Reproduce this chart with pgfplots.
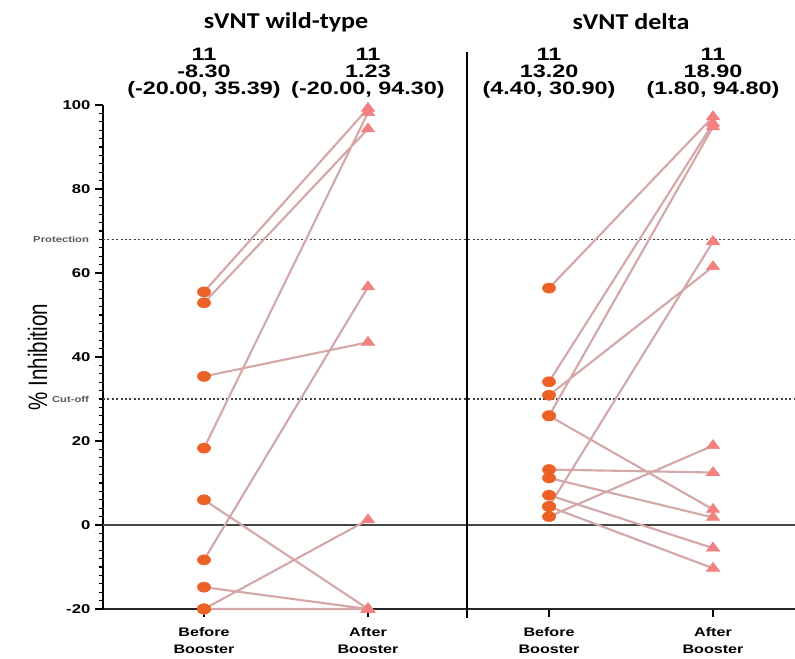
\documentclass[border=0pt]{standalone}
\usepackage{fontspec}
\setmainfont[FakeStretch=1.3]{Liberation Sans}
\newfontfamily\titlefont[FakeStretch=1.15]{Carlito}
\newfontfamily\ylabfont[FakeStretch=0.77]{Liberation Sans}
\usepackage{pgfplots}
\pgfplotsset{compat=1.18}
\definecolor{linec}{RGB}{212,168,168}
\definecolor{circc}{RGB}{236,98,38}
\definecolor{tric}{RGB}{243,128,128}
\definecolor{zeroc}{RGB}{70,70,70}
\begin{document}
\begin{tikzpicture}[x=1pt,y=1pt]
\path[use as bounding box] (-77.25,-36.75) rectangle (519,456.75);
\begin{axis}[
  at={(0,0)}, anchor=south west, scale only axis,
  width=519pt, height=378pt,
  xmin=-0.616, xmax=3.604, ymin=-20, ymax=100,
  axis lines*=left,
  y axis line style={line width=2pt, black},
  x axis line style={line width=1.4pt, black!85},
  clip=false,
  ytick={-20,0,20,40,60,80,100},
  minor y tick num=9,
  xtick={0,1,2.104,3.104},
  xticklabels={Before\\Booster, After\\Booster, Before\\Booster, After\\Booster},
  xticklabel style={align=center, font=\fontsize{9.3}{12.8}\selectfont\bfseries, yshift=-4pt},
  yticklabel style={font=\fontsize{9.6}{11}\selectfont\bfseries},
  /pgf/number format/assume math mode=true,
  tick align=outside,
  major tick length=6pt, minor tick length=3pt,
  major tick style={line width=1.2pt, black},
  minor tick style={line width=0.9pt, black},
]
% reference lines
\draw[line width=1.5pt, zeroc] (axis cs:-0.616,0) -- (axis cs:3.604,0);
\draw[line width=1pt, black!75, dash pattern=on 1.5pt off 1.8pt] (axis cs:-0.616,68) -- (axis cs:3.604,68);
\draw[line width=1pt, black!75, dash pattern=on 1.5pt off 1.8pt] (axis cs:-0.616,30) -- (axis cs:3.604,30);
\draw[line width=1.3pt, black] (axis cs:1.604,112.6) -- (axis cs:1.604,-22.2);

% markers: sVNT wild-type
\addplot[only marks, mark=*, mark size=3.8pt, mark options={xscale=1.3, draw=circc, fill=circc}]
  coordinates {(0,55.5) (0,52.9) (0,35.39) (0,18.3) (0,6.0) (0,-8.3) (0,-14.8) (0,-20) (0,-20) (0,-20) (0,-20)};
\addplot[only marks, mark=triangle*, mark size=4.5pt, mark options={xscale=1.3, draw=tric, fill=tric}]
  coordinates {(1,99.2) (1,94.3) (1,43.5) (1,98.2) (1,-20) (1,56.7) (1,-20) (1,1.23) (1,-20) (1,-20) (1,-20)};
% markers: sVNT delta
\addplot[only marks, mark=*, mark size=3.8pt, mark options={xscale=1.3, draw=circc, fill=circc}]
  coordinates {(2.104,56.4) (2.104,34.1) (2.104,30.9) (2.104,26.0) (2.104,26.0) (2.104,13.2) (2.104,11.2) (2.104,7.1) (2.104,4.4) (2.104,4.4) (2.104,2.0)};
\addplot[only marks, mark=triangle*, mark size=4.5pt, mark options={xscale=1.3, draw=tric, fill=tric}]
  coordinates {(3.104,97.2) (3.104,95.6) (3.104,61.5) (3.104,94.8) (3.104,3.7) (3.104,12.5) (3.104,1.8) (3.104,-5.5) (3.104,67.5) (3.104,-10.3) (3.104,18.9)};

% paired lines: sVNT wild-type
\addplot[linec, line width=1.6pt, mark=none, unbounded coords=jump] table[row sep=\\] {
x y\\
0 55.5\\ 1 99.2\\ 0 nan\\
0 52.9\\ 1 94.3\\ 0 nan\\
0 35.39\\ 1 43.5\\ 0 nan\\
0 18.3\\ 1 98.2\\ 0 nan\\
0 6.0\\ 1 -20\\ 0 nan\\
0 -8.3\\ 1 56.7\\ 0 nan\\
0 -14.8\\ 1 -20\\ 0 nan\\
0 -20\\ 1 1.23\\ 0 nan\\
0 -20\\ 1 -20\\ 0 nan\\
0 -20\\ 1 -20\\ 0 nan\\
0 -20\\ 1 -20\\
};
% paired lines: sVNT delta
\addplot[linec, line width=1.6pt, mark=none, unbounded coords=jump] table[row sep=\\] {
x y\\
2.104 56.4\\ 3.104 97.2\\ 2.104 nan\\
2.104 34.1\\ 3.104 95.6\\ 2.104 nan\\
2.104 30.9\\ 3.104 61.5\\ 2.104 nan\\
2.104 26.0\\ 3.104 94.8\\ 2.104 nan\\
2.104 26.0\\ 3.104 3.7\\ 2.104 nan\\
2.104 13.2\\ 3.104 12.5\\ 2.104 nan\\
2.104 11.2\\ 3.104 1.8\\ 2.104 nan\\
2.104 7.1\\ 3.104 -5.5\\ 2.104 nan\\
2.104 4.4\\ 3.104 67.5\\ 2.104 nan\\
2.104 4.4\\ 3.104 -10.3\\ 2.104 nan\\
2.104 2.0\\ 3.104 18.9\\
};

% titles and statistics
\node[font=\titlefont\fontsize{17}{20}\selectfont\bfseries] at (axis cs:0.5,119.8) {sVNT wild-type};
\node[font=\titlefont\fontsize{17}{20}\selectfont\bfseries] at (axis cs:2.604,119.8) {sVNT delta};
\node[align=center, font=\fontsize{13.5}{12.6}\selectfont\bfseries] at (axis cs:0,107.6) {11\\-8.30\\(-20.00, 35.39)};
\node[align=center, font=\fontsize{13.5}{12.6}\selectfont\bfseries] at (axis cs:1,107.6) {11\\1.23\\(-20.00, 94.30)};
\node[align=center, font=\fontsize{13.5}{12.6}\selectfont\bfseries] at (axis cs:2.104,107.6) {11\\13.20\\(4.40, 30.90)};
\node[align=center, font=\fontsize{13.5}{12.6}\selectfont\bfseries] at (axis cs:3.104,107.6) {11\\18.90\\(1.80, 94.80)};

% threshold labels
\node[anchor=east, font=\fontsize{6.5}{7}\selectfont\bfseries, black!65] at ([xshift=-7pt]axis cs:-0.616,68) {Protection};
\node[anchor=east, font=\fontsize{6.5}{7}\selectfont\bfseries, black!65] at ([xshift=-7pt]axis cs:-0.616,30) {Cut-off};

% y label
\node[rotate=90, font=\ylabfont\fontsize{20}{24}\selectfont] at ([xshift=-49pt]axis cs:-0.616,40) {\% Inhibition};
\end{axis}
\end{tikzpicture}
\end{document}
